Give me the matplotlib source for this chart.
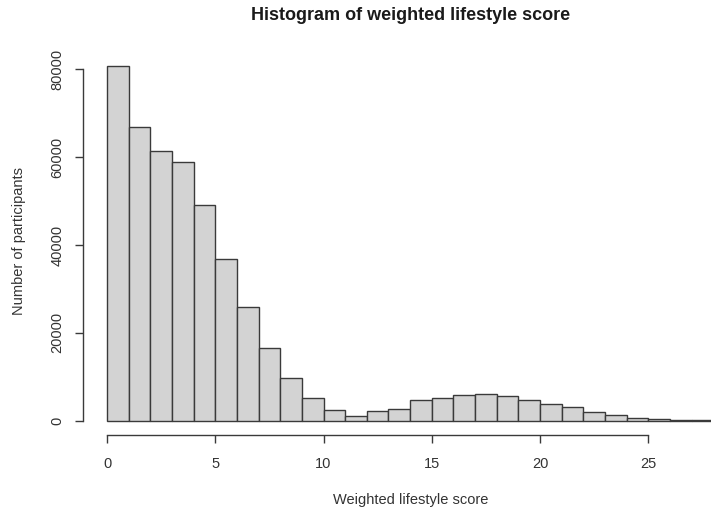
import matplotlib
matplotlib.use("Agg")
import matplotlib.pyplot as plt

plt.rcParams['font.family'] = ['Liberation Sans', 'DejaVu Sans']

bin_edges = list(range(29))
counts = [80800, 66900, 61300, 58900, 49200, 36900, 26000, 16500, 9800, 5300,
          2500, 1100, 2300, 2600, 4700, 5300, 5800, 6200, 5600, 4750,
          3900, 3050, 1950, 1400, 680, 450, 200, 150]
x_ticks = [0, 5, 10, 15, 20, 25]
y_ticks = [0, 20000, 40000, 60000, 80000]
title = "Histogram of weighted lifestyle score"
xlabel = "Weighted lifestyle score"
ylabel = "Number of participants"

W, H = 711, 511
fig = plt.figure(figsize=(W / 100, H / 100), dpi=100)
fig.patch.set_facecolor('white')

# axes in pixel units (from top-left)
left_px, right_px, top_px, bottom_px = 82.8, 737.5, 51.5, 435.0
ax = fig.add_axes([left_px / W, 1 - bottom_px / H,
                   (right_px - left_px) / W, (bottom_px - top_px) / H])
ax.set_facecolor('white')

widths = [bin_edges[i + 1] - bin_edges[i] for i in range(len(counts))]
ax.bar(bin_edges[:-1], counts, width=widths, align='edge',
       color='#d3d3d3', edgecolor='#3a3a3a', linewidth=1.0)

ax.set_xlim(-1.12, 29.12)
ax.set_ylim(-0.04 * max(counts), 1.04 * max(counts))

for s in ['top', 'right']:
    ax.spines[s].set_visible(False)
ax.spines['left'].set_bounds(0, 80000)
ax.spines['bottom'].set_bounds(0, 25)
for s in ['left', 'bottom']:
    ax.spines[s].set_color('#3a3a3a')
    ax.spines[s].set_linewidth(1.0)

ax.set_xticks(x_ticks)
ax.set_xticklabels([str(t) for t in x_ticks])
ax.set_yticks(y_ticks)
ax.set_yticklabels([str(t) for t in y_ticks], rotation=90, va='center')
ax.tick_params(axis='both', direction='out', length=6, width=1.0,
               color='#3a3a3a', labelsize=10.5, labelcolor='#333333')
ax.tick_params(axis='x', pad=10)
ax.tick_params(axis='y', pad=7)

fig.text(411 / W, 1 - 16 / H, title, ha='center', va='center',
         fontsize=13, fontweight='bold', color='#1a1a1a')
fig.text(411 / W, 1 - 500 / H, xlabel, ha='center', va='center',
         fontsize=10.5, color='#333333')
fig.text(19 / W, 1 - 241 / H, ylabel, ha='center', va='center',
         rotation=90, fontsize=10.5, color='#333333')

fig.savefig("out.png", dpi=100, facecolor='white')
